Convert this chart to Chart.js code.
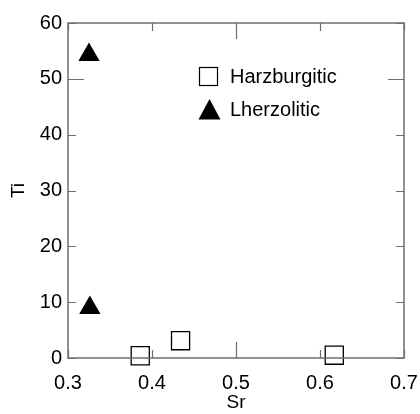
<!DOCTYPE html>
<html>
<head>
<meta charset="utf-8">
<script src="https://cdn.jsdelivr.net/npm/chart.js@4/dist/chart.umd.min.js"></script>
<style>
  html, body { margin: 0; padding: 0; background: #fff; }
  #wrap { width: 420px; height: 414px; }
</style>
</head>
<body>
<div id="wrap"><canvas id="srTiChart" width="420" height="414"></canvas></div>
<script>
// data
const harzSr = [0.386, 0.434, 0.617];
const harzTi = [0.4, 3.1, 0.5];
const lherzSr = [0.325, 0.326];
const lherzTi = [54.3, 9.0];

const xTicks = [0.3, 0.4, 0.5, 0.6, 0.7];
const yTicks = [0, 10, 20, 30, 40, 50, 60];
const xMajor = [0.5];
const yMajor = [50];

const seriesNames = ['Harzburgitic', 'Lherzolitic'];

const font = "'Liberation Sans', Arial, sans-serif";
const axisColor = '#6e6e6e';

function toPoints(xs, ys) {
	const out = [];
	for (let i in xs) {
		out.push({ x: xs[i], y: ys[i] });
	}
	return out;
}

// inward ticks, frame and the little legend
const framePlugin = {
	id: 'frame',
	afterDraw(chart) {
		const ctx = chart.ctx;
		const a = chart.chartArea;
		const xs = chart.scales.x;
		const ys = chart.scales.y;
		ctx.save();
		ctx.strokeStyle = axisColor;
		ctx.lineWidth = 1.5;
		ctx.strokeRect(a.left, a.top, a.right - a.left, a.bottom - a.top);

		ctx.lineWidth = 1.2;
		ctx.beginPath();
		xTicks.forEach(v => {
			const px = Math.round(xs.getPixelForValue(v)) + 0.5;
			const len = xMajor.includes(v) ? 16 : 8;
			ctx.moveTo(px, a.bottom); ctx.lineTo(px, a.bottom - len);
			ctx.moveTo(px, a.top); ctx.lineTo(px, a.top + len);
		});
		yTicks.forEach(v => {
			const py = Math.round(ys.getPixelForValue(v)) + 0.5;
			const len = yMajor.includes(v) ? 16 : 8;
			ctx.moveTo(a.left, py); ctx.lineTo(a.left + len, py);
			ctx.moveTo(a.right, py); ctx.lineTo(a.right - len, py);
		});
		ctx.stroke();

		// legend
		ctx.strokeStyle = '#000';
		ctx.lineWidth = 1.2;
		ctx.fillStyle = '#fff';
		ctx.fillRect(199.5, 67.5, 18, 18);
		ctx.strokeRect(199.5, 67.5, 18, 18);
		ctx.fillStyle = '#000';
		ctx.beginPath();
		ctx.moveTo(209.5, 99);
		ctx.lineTo(220.5, 119.5);
		ctx.lineTo(198.5, 119.5);
		ctx.closePath();
		ctx.fill();

		ctx.font = '20px ' + font;
		ctx.textBaseline = 'middle';
		ctx.textAlign = 'left';
		ctx.fillText(seriesNames[0], 230, 77);
		ctx.fillText(seriesNames[1], 230, 110);
		ctx.restore();
	}
};

const ctx1 = document.getElementById('srTiChart').getContext('2d');
window.srTiChart = new Chart(ctx1, {
	type: 'scatter',
	data: {
		datasets: [{
			label: seriesNames[0],
			data: toPoints(harzSr, harzTi),
			pointStyle: 'rect',
			pointRadius: 12.8,
			pointHoverRadius: 12.8,
			backgroundColor: '#fff',
			borderColor: '#000',
			borderWidth: 1.3,
			clip: false
		},
		{
			label: seriesNames[1],
			data: toPoints(lherzSr, lherzTi),
			pointStyle: 'triangle',
			pointRadius: 12.3,
			pointHoverRadius: 12.3,
			backgroundColor: '#000',
			borderColor: '#000',
			borderWidth: 0,
			clip: false
		}]
	},
	options: {
		responsive: false,
		animation: false,
		events: [],
		layout: { padding: { top: 23, right: 16, left: 0, bottom: 0 } },
		plugins: {
			legend: { display: false },
			tooltip: { enabled: false }
		},
		scales: {
			x: {
				type: 'linear',
				min: 0.3,
				max: 0.7,
				afterBuildTicks: s => { s.ticks = xTicks.map(v => ({ value: v })); },
				afterFit: s => { s.height = 56; s.paddingLeft = 0; s.paddingRight = 0; },
				grid: { display: false, drawTicks: false },
				border: { display: false },
				ticks: {
					padding: 13,
					color: '#000',
					font: { family: font, size: 20 },
					maxRotation: 0,
					callback: v => v.toFixed(1)
				},
				title: {
					display: true,
					text: 'Sr',
					color: '#000',
					font: { family: font, size: 19 },
					padding: { top: 2, bottom: 0 }
				}
			},
			y: {
				type: 'linear',
				min: 0,
				max: 60,
				afterBuildTicks: s => { s.ticks = yTicks.map(v => ({ value: v })); },
				afterFit: s => { s.width = 68; s.paddingTop = 0; s.paddingBottom = 0; },
				grid: { display: false, drawTicks: false },
				border: { display: false },
				ticks: {
					padding: 6,
					color: '#000',
					font: { family: font, size: 20 }
				},
				title: {
					display: true,
					text: 'Ti',
					color: '#000',
					font: { family: font, size: 19 },
					padding: { top: 7, bottom: 0 }
				}
			}
		}
	},
	plugins: [framePlugin]
});
</script>
</body>
</html>
